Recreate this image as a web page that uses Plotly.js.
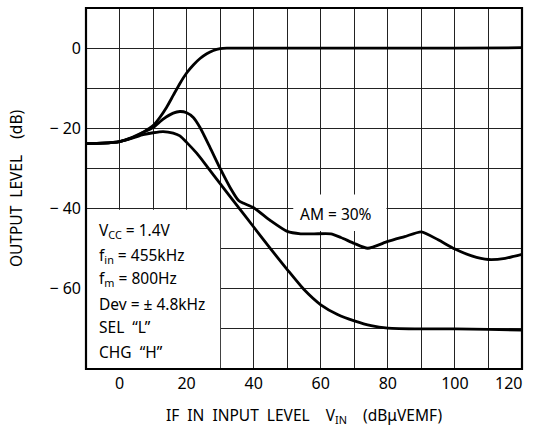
<!DOCTYPE html>
<html>
<head>
<meta charset="utf-8">
<script src="https://cdn.plot.ly/plotly-3.0.1.min.js"></script>
<style>html,body{margin:0;padding:0;background:#fff;}#chart{width:534px;height:427px;}</style>
</head>
<body>
<div id="chart"></div>
<script>
// Curve: output level without AM (saturates at 0 dB)
const xTop = [-10,-5,0,4,7,10,12,14,16,18,20,22,24,26,28,30,32,40,60,80,100,120];
const yTop = [-23.8,-23.7,-23.3,-22.3,-21,-19.3,-17.3,-14.8,-11.8,-8.8,-6.2,-4.2,-2.6,-1.4,-0.6,-0.15,0,0,0,0,0,0.1];
// Curve: AM = 30%
const xAM = [-10,-5,0,4,7,10,13,16,18,20,22,24,27,30,33,35.5,37,40,45,50,54,58,63,66,70,74,80,85,90,95,100,105,110,115,120];
const yAM = [-23.8,-23.7,-23.3,-22.2,-21,-19.8,-17.7,-16.2,-15.8,-16.1,-17.3,-19.8,-24.8,-30,-34.8,-38,-38.7,-39.8,-43,-45.7,-46.3,-46.3,-46.3,-47.2,-48.7,-49.9,-48.2,-47,-45.8,-47.8,-50.1,-51.8,-52.7,-52.4,-51.4];
// Curve: noise level
const xLow = [-10,-5,0,4,7,10,13,16,18,20,23,26,30,35,40,45,50,55,60,65,70,75,80,90,100,110,120];
const yLow = [-23.8,-23.7,-23.3,-22.4,-21.6,-21.1,-20.8,-21.2,-21.9,-23.5,-26.2,-29.4,-33.8,-39.2,-44.6,-50,-55.2,-60.2,-64,-66.4,-68,-69.2,-69.8,-70,-70,-70.1,-70.3];

const xTicks = [0,20,40,60,80,100,120];
const xTickText = ['0','20','40','60','80','100','120'];
const xGrid = [0,10,20,30,40,50,60,70,80,90,100,110];
const yTicks = [0,-20,-40,-60];
const yTickText = ['0','\u2212 20','\u2212 40','\u2212 60'];
const yGrid = [0,-10,-20,-30,-40,-50,-60,-70];

const condLines = [
  'V<sub>CC</sub> = 1.4V',
  'f<sub>in</sub> = 455kHz',
  'f<sub>m</sub> = 800Hz',
  'Dev = \u00B1 4.8kHz',
  'SEL \u00A0\u201CL\u201D',
  'CHG \u00A0\u201CH\u201D'
];
const condY = [-45.4, -51.6, -57.4, -63.8, -69.6, -75.8];

const FONT = 'Noto Sans, Open Sans, DejaVu Sans, sans-serif';
const line = {color:'#000', width:2.8, shape:'spline', smoothing:0.6};

const traces = [
  {x:xTop, y:yTop, mode:'lines', line:line, hoverinfo:'skip'},
  {x:xAM, y:yAM, mode:'lines', line:line, hoverinfo:'skip'},
  {x:xLow, y:yLow, mode:'lines', line:line, hoverinfo:'skip'}
];

const annotations = condLines.map((t,i)=>({
  x:-6.8, y:condY[i], xref:'x', yref:'y', text:t, showarrow:false,
  xanchor:'left', yanchor:'middle', font:{family:FONT, size:15.5, color:'#000'}
}));
annotations.push({x:64.4, y:-41.3, xref:'x', yref:'y', text:'AM = 30%', showarrow:false,
  xanchor:'center', yanchor:'middle', font:{family:FONT, size:15.5, color:'#000'}});
// last x tick label (at the plot edge), right-aligned to the frame as in the original
annotations.push({x:xTicks[xTicks.length-1], y:0, xref:'x', yref:'paper', text:xTickText[xTickText.length-1],
  showarrow:false, xanchor:'right', yanchor:'top', xshift:2, yshift:-1, font:{family:FONT, size:16, color:'#000'}});

const shapes = [
  {type:'rect', xref:'x', yref:'y', x0:-10, x1:30, y0:-80, y1:-40.3, fillcolor:'#fff', line:{width:0}, layer:'between'},
  {type:'rect', xref:'x', yref:'y', x0:51.8, x1:79.6, y0:-45.6, y1:-36.5, fillcolor:'#fff', line:{width:0}, layer:'between'},
  {type:'rect', xref:'paper', yref:'paper', x0:0, x1:1, y0:0, y1:1, line:{color:'#000', width:2.2}, layer:'above'}
];

const layout = {
  width:534, height:427,
  margin:{l:86, r:12, t:8, b:58},
  paper_bgcolor:'#fff', plot_bgcolor:'#fff',
  showlegend:false,
  font:{family:FONT, size:16, color:'#000'},
  xaxis:{
    range:[-10,120], tickmode:'array', tickvals:xTicks.slice(0,-1), ticktext:xTickText.slice(0,-1),
    showgrid:false, zeroline:false, showline:false,
    minor:{tickmode:'array', tickvals:xGrid, showgrid:true, gridcolor:'#222', gridwidth:1, ticks:''},
    ticks:'', ticklabelstandoff:3, automargin:false,
    title:{text:'IF\u00A0 IN\u00A0 INPUT\u00A0 LEVEL\u00A0\u00A0\u00A0 V<sub>IN</sub>\u00A0\u00A0\u00A0 (dB\u03BCVEMF)', font:{family:FONT, size:15.5}, standoff:22},
    tickfont:{family:FONT, size:16}, fixedrange:true
  },
  yaxis:{
    range:[-80,10], tickmode:'array', tickvals:yTicks, ticktext:yTickText,
    showgrid:false, zeroline:false, showline:false,
    minor:{tickmode:'array', tickvals:yGrid, showgrid:true, gridcolor:'#222', gridwidth:1, ticks:''},
    ticks:'', ticklabelstandoff:4,
    title:{text:'OUTPUT\u00A0 LEVEL\u00A0\u00A0\u00A0 (dB)', font:{family:FONT, size:15.5}, standoff:22},
    tickfont:{family:FONT, size:16}, fixedrange:true
  },
  shapes:shapes,
  annotations:annotations
};

Plotly.newPlot('chart', traces, layout, {staticPlot:true, displayModeBar:false});
</script>
</body>
</html>
